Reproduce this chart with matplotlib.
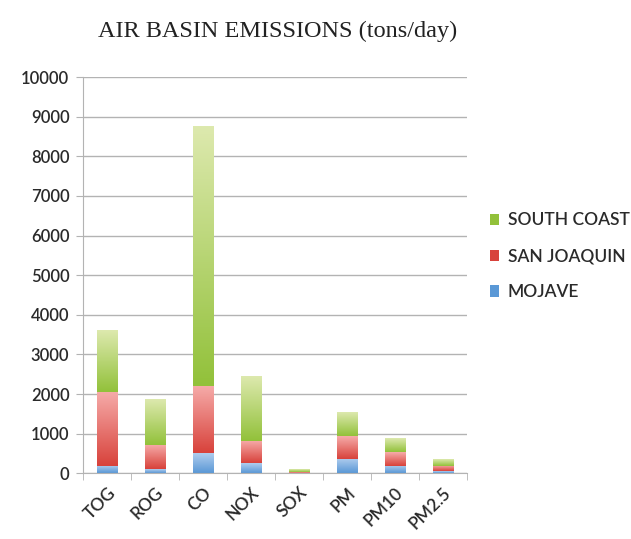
import numpy as np
import matplotlib.pyplot as plt
from matplotlib.colors import LinearSegmentedColormap

pollutants = ["TOG", "ROG", "CO", "NOX", "SOX", "PM", "PM10", "PM2.5"]
mojave = [180, 100, 500, 250, 5, 370, 190, 50]
san_joaquin = [1870, 610, 1700, 560, 25, 560, 340, 130]
south_coast = [1550, 1160, 6550, 1640, 70, 590, 350, 170]

# light (top) -> dark (bottom) shading for each basin
shades = {
    "SOUTH COAST": ("#dde9ae", "#92c13a"),
    "SAN JOAQUIN": ("#f6acaa", "#d8423b"),
    "MOJAVE": ("#b0cdee", "#5a98d6"),
}

fig = plt.figure(figsize=(6.31, 5.39), dpi=100)
ax = fig.add_axes([0.132, 0.122, 0.608, 0.735])

x = np.arange(len(pollutants))
w = 0.42
bottom = np.zeros(len(pollutants))
handles = []
for name, vals in [("MOJAVE", mojave), ("SAN JOAQUIN", san_joaquin), ("SOUTH COAST", south_coast)]:
    top_c, bot_c = shades[name]
    bars = ax.bar(x, vals, w, bottom=bottom, color=bot_c, label=name, zorder=2, linewidth=0)
    cmap = LinearSegmentedColormap.from_list(name, [bot_c, top_c])
    grad = np.linspace(0, 1, 128).reshape(-1, 1)
    for p in bars.patches:
        x0, y0 = p.get_x(), p.get_y()
        ax.imshow(grad, cmap=cmap, origin="lower", aspect="auto", zorder=3,
                  extent=[x0, x0 + p.get_width(), y0, y0 + p.get_height()])
    handles.append(bars)
    bottom += np.array(vals)

ax.set_xlim(-0.5, len(pollutants) - 0.5)
ax.set_ylim(0, 10000)
ax.set_yticks(np.arange(0, 10001, 1000))
ax.yaxis.grid(True, color="#b3b3b3", linewidth=1.0, zorder=0)
ax.set_axisbelow(True)

for s in ["top", "right"]:
    ax.spines[s].set_visible(False)
for s in ["left", "bottom"]:
    ax.spines[s].set_color("#b3b3b3")
ax.spines["bottom"].set_zorder(4)

tick_font = {"family": "Lato", "weight": "semibold"}

ax.set_xticks(x)
ax.set_xticklabels(pollutants, rotation=45, ha="right", rotation_mode="anchor",
                   fontsize=12.5, color="#2a2a2a", **tick_font)
ax.tick_params(axis="x", length=0, pad=8)
ax.set_xticks(np.arange(-0.5, len(pollutants), 1), minor=True)
ax.tick_params(axis="x", which="minor", length=5, color="#b3b3b3", direction="out")
ax.tick_params(axis="y", length=5, color="#b3b3b3", labelsize=12, labelcolor="#2a2a2a", pad=5)
for t in ax.get_yticklabels():
    t.set_family(tick_font["family"])
    t.set_weight(tick_font["weight"])

fig.suptitle("AIR BASIN EMISSIONS (tons/day)", x=0.44, y=0.962, fontsize=17.5,
             family="Liberation Serif", color="#222222")

leg = ax.legend(handles[::-1], ["SOUTH COAST", "SAN JOAQUIN", "MOJAVE"],
                loc="center left", bbox_to_anchor=(1.02, 0.548), frameon=False,
                handlelength=0.5, handleheight=0.6, handletextpad=0.5,
                labelspacing=1.15, prop={"family": "Lato", "weight": "semibold", "size": 12.5})
for txt in leg.get_texts():
    txt.set_color("#2a2a2a")

fig.savefig("out.png", dpi=100)
